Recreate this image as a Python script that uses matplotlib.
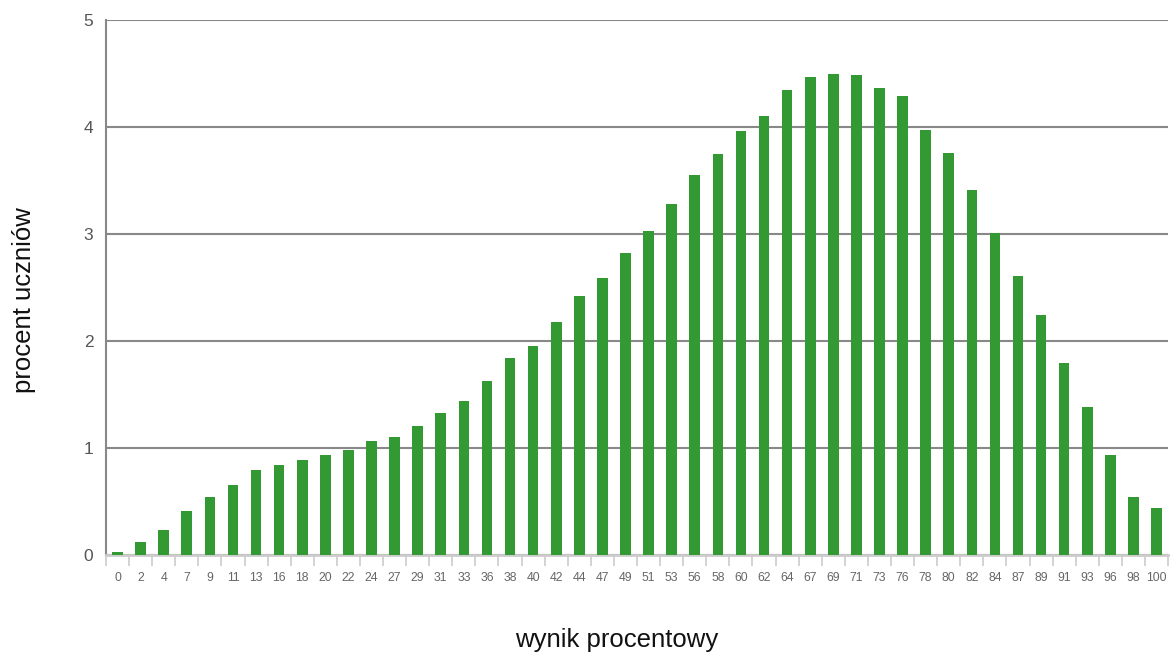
import matplotlib.pyplot as plt
import numpy as np

plt.rcParams['font.family'] = ['Liberation Sans', 'DejaVu Sans']

# wynik procentowy (categories)
scores = ['0', '2', '4', '7', '9', '11', '13', '16', '18', '20', '22', '24', '27', '29',
          '31', '33', '36', '38', '40', '42', '44', '47', '49', '51', '53', '56', '58',
          '60', '62', '64', '67', '69', '71', '73', '76', '78', '80', '82', '84', '87',
          '89', '91', '93', '96', '98', '100']

# procent uczniów
percent = [0.03, 0.12, 0.235, 0.41, 0.54, 0.65, 0.79, 0.84, 0.89, 0.93, 0.98, 1.07,
           1.10, 1.21, 1.33, 1.44, 1.63, 1.84, 1.95, 2.18, 2.42, 2.59, 2.82, 3.03,
           3.28, 3.55, 3.75, 3.96, 4.10, 4.35, 4.47, 4.50, 4.49, 4.36, 4.29, 3.97,
           3.76, 3.41, 3.01, 2.61, 2.24, 1.79, 1.38, 0.93, 0.545, 0.44]

yticks = [0, 1, 2, 3, 4, 5]

fig = plt.figure(figsize=(11.71, 6.54), dpi=100)
ax = fig.add_axes([0.0905, 0.1514, 0.907, 0.818])

x = np.arange(len(scores))
ax.bar(x, percent, width=0.46, color='#339933', zorder=3)

ax.set_xlim(-0.5, len(scores) - 0.5)
ax.set_ylim(0, 5)

# grid
ax.set_yticks(yticks)
ax.yaxis.grid(True, color='#888888', linewidth=1.5, zorder=0)
ax.tick_params(axis='y', length=0, pad=9, labelsize=12.5, labelcolor='#555555')

# category labels + separator ticks
ax.set_xticks(x)
ax.set_xticklabels(scores, fontsize=8.8, color='#666666')
ax.tick_params(axis='x', length=0, pad=12)
ax.set_xticks(np.arange(len(scores) + 1) - 0.5, minor=True)
ax.tick_params(axis='x', which='minor', length=8, width=1.2, color='#cccccc')

for s in ['top', 'right']:
    ax.spines[s].set_visible(False)
ax.spines['left'].set_color('#888888')
ax.spines['left'].set_linewidth(1.5)
ax.spines['bottom'].set_color('#cccccc')
ax.spines['bottom'].set_linewidth(2)

# axis titles (placed like in the original)
fig.text(617 / 1171, 1 - 640 / 654, 'wynik procentowy', fontsize=18.5,
         color='#111111', ha='center', va='center')
fig.text(24 / 1171, 1 - 300 / 654, 'procent uczniów', fontsize=18.5,
         color='#111111', ha='center', va='center', rotation=90)

fig.savefig('out.png', dpi=100)
